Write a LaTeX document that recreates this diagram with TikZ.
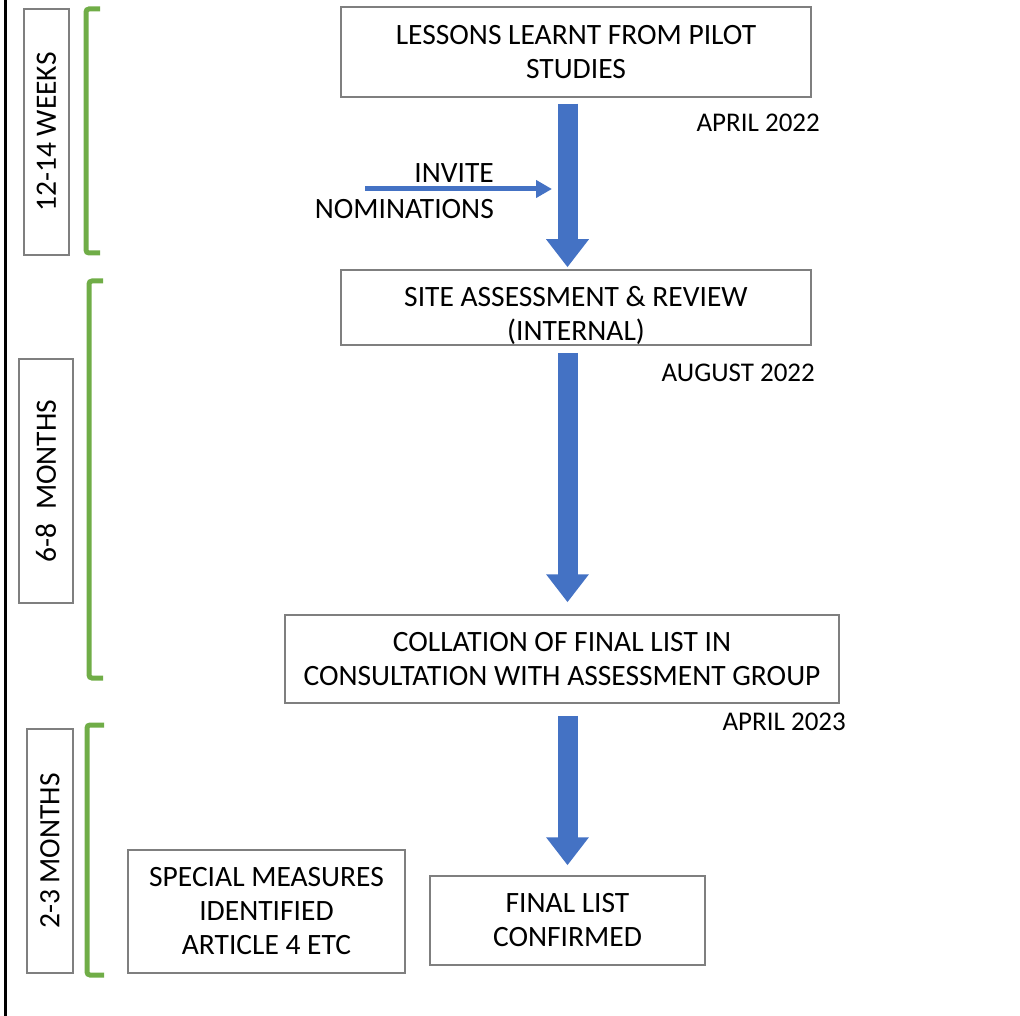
\documentclass[tikz,border=0pt]{standalone}
\usepackage{fontspec}
\setmainfont{Carlito}
\definecolor{flowblue}{RGB}{68, 114, 196}
\definecolor{spangreen}{RGB}{112, 173, 71}
\definecolor{boxgrey}{RGB}{127, 127, 127}
\usetikzlibrary{arrows.meta, calc}
\tikzset{
    stage/.style={draw=boxgrey, line width=1.5pt, align=center, inner sep=0pt,
        font=\fontsize{29.5}{34}\selectfont},
    period/.style={stage, rotate=90, font=\fontsize{29.5}{30}\selectfont},
    datelabel/.style={anchor=east, inner sep=0pt,
        font=\fontsize{27}{28}\selectfont},
    flow/.style={flowblue, line width=20pt,
        -{Triangle[width=41pt, length=28pt]}},
    feed/.style={flowblue, line width=5pt,
        -{Triangle[width=17pt, length=16pt]}},
    bracket/.style={spangreen, line width=5pt, rounded corners=3pt},
}

\begin{document}
\begin{tikzpicture}[x=1pt, y=-1pt]
    \useasboundingbox (0, 0) rectangle (1020, 1016);
    \draw[line width=3pt] (5, 0) -- (5, 1016);

    % main stages
    \node[stage, minimum width=470pt, minimum height=90pt] (lessons)
        at (576, 52) {LESSONS LEARNT FROM PILOT\\STUDIES};
    \node[stage, minimum width=470pt, minimum height=75pt] (site)
        at (576, 307.5) {\rule{0pt}{36pt}SITE ASSESSMENT \& REVIEW\\(INTERNAL)};
    \node[stage, minimum width=554pt, minimum height=88pt] (collation)
        at (562, 659) {COLLATION OF FINAL LIST IN\\CONSULTATION WITH ASSESSMENT GROUP};
    \node[stage, minimum width=275pt, minimum height=89pt] (final)
        at (567.5, 920.5) {FINAL LIST\\CONFIRMED};
    \node[stage, minimum width=277pt, minimum height=123pt] (special)
        at (266.5, 911.5) {SPECIAL MEASURES\\IDENTIFIED\\ARTICLE 4 ETC};

    % dates
    \node[datelabel] (dateone) at (820, 123) {APRIL 2022};
    \node[datelabel] (datetwo) at (815, 373) {AUGUST 2022};
    \node[datelabel] (datethree) at (846, 722) {APRIL 2023};

    % flow
    \draw[flow, shorten <=6pt, shorten >=2pt]
        (lessons.south -| final.center) -- (site.north -| final.center);
    \draw[flow, shorten <=7pt, shorten >=12pt]
        (site.south -| final.center) -- (collation.north -| final.center);
    \draw[flow, shorten <=12pt, shorten >=10pt]
        (collation.south -| final.center) -- (final.north);

    \coordinate (feedstart) at (365, 189);
    \coordinate (feedend) at (552, 189);
    \draw[feed] (feedstart) -- (feedend);
    \node[anchor=east, align=right, inner sep=0pt,
        font=\fontsize{29.5}{36}\selectfont] (invite) at (494, 191)
        {INVITE\\NOMINATIONS};

    % time spans
    \node[period, minimum width=246pt, minimum height=45pt] (weeks)
        at (46.5, 132) {12-14 WEEKS};
    \node[period, minimum width=244pt, minimum height=54pt] (sixeight)
        at (46, 481) {6-8~ MONTHS};
    \node[period, minimum width=244pt, minimum height=46pt] (twothree)
        at (50, 851) {2-3 MONTHS};
    \draw[bracket] (100, 9) -- (86, 9) -- (86, 253) -- (100, 253);
    \draw[bracket] (103, 281) -- (89, 281) -- (89, 678) -- (103, 678);
    \draw[bracket] (104, 725) -- (87, 725) -- (87, 975) -- (104, 975);
\end{tikzpicture}
\end{document}
